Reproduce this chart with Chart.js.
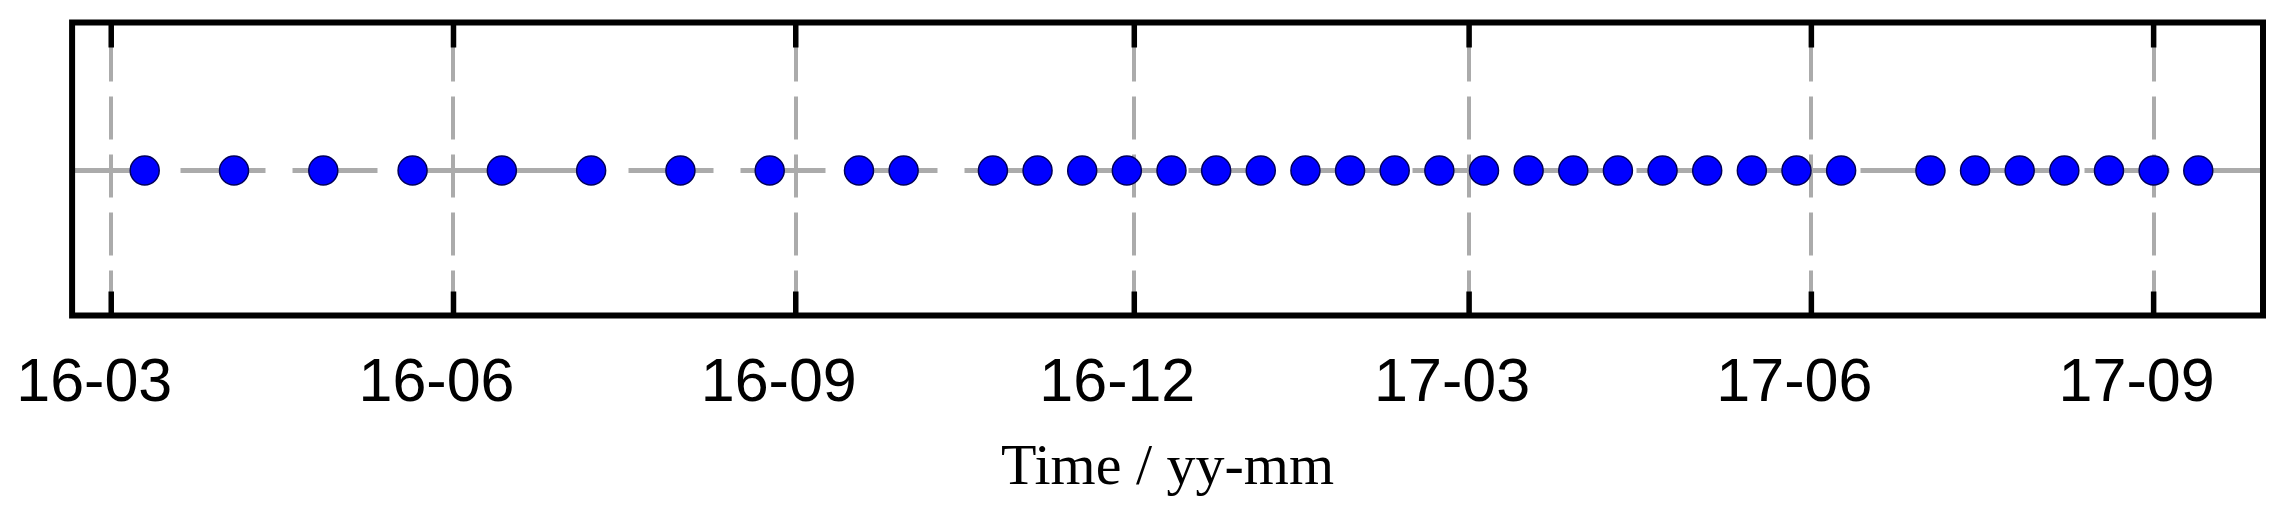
<!DOCTYPE html>
<html>
<head>
<meta charset="utf-8">
<script src="https://cdn.jsdelivr.net/npm/chart.js@4"></script>
<style>
  html, body { margin: 0; padding: 0; background: #ffffff; }
  #wrap { width: 2279px; height: 519px; }
</style>
</head>
<body>
<div id="wrap"><canvas id="c" width="2279" height="519"></canvas></div>
<script>
// ---- data ----
const acquisitionDates = [
  '2016-03-10','2016-04-03','2016-04-27','2016-05-21','2016-06-14','2016-07-08',
  '2016-08-01','2016-08-25','2016-09-18','2016-09-30','2016-10-24','2016-11-05',
  '2016-11-17','2016-11-29','2016-12-11','2016-12-23','2017-01-04','2017-01-16',
  '2017-01-28','2017-02-09','2017-02-21','2017-03-05','2017-03-17','2017-03-29',
  '2017-04-10','2017-04-22','2017-05-04','2017-05-16','2017-05-28','2017-06-09',
  '2017-07-03','2017-07-15','2017-07-27','2017-08-08','2017-08-20','2017-09-01',
  '2017-09-13'
];
const seriesValues = [
  0,0,0,0,0,0,0,0,0,0,0,0,0,0,0,0,0,0,0,0,0,0,0,0,0,0,0,0,0,0,0,0,0,0,0,0,0
];
const tickDates  = ['2016-03-01','2016-06-01','2016-09-01','2016-12-01','2017-03-01','2017-06-01','2017-09-01'];
const tickLabels = ['16-03','16-06','16-09','16-12','17-03','17-06','17-09'];
const axisStartDate = '2016-03-01';
const axisTitle = 'Time / yy-mm';

// ---- helpers ----
function dayIndex(s) {
  const [y, m, d] = s.split('-').map(Number);
  const [y0, m0, d0] = axisStartDate.split('-').map(Number);
  return (Date.UTC(y, m - 1, d) - Date.UTC(y0, m0 - 1, d0)) / 86400000;
}
const points = acquisitionDates.map((d, i) => ({ x: dayIndex(d), y: seriesValues[i] }));
const tickDays = tickDates.map(dayIndex);

const GRID = '#ababab';

const framePlugin = {
  id: 'frame',
  afterDraw(chart) {
    const { ctx, chartArea: a, scales } = chart;
    const xs = scales.x;
    ctx.save();
    ctx.strokeStyle = '#000000';
    ctx.lineWidth = 5.5;
    ctx.lineCap = 'butt';
    tickDays.forEach(v => {
      const px = xs.getPixelForValue(v);
      ctx.beginPath();
      ctx.moveTo(px, a.top);
      ctx.lineTo(px, a.top + 25);
      ctx.moveTo(px, a.bottom);
      ctx.lineTo(px, a.bottom - 24);
      ctx.stroke();
    });
    ctx.lineWidth = 6;
    ctx.strokeRect(a.left, a.top, a.right - a.left, a.bottom - a.top);
    ctx.restore();
  }
};

new Chart(document.getElementById('c'), {
  type: 'scatter',
  data: {
    datasets: [{
      data: points,
      pointRadius: 14.5,
      pointHoverRadius: 14.5,
      pointBorderWidth: 1.5,
      backgroundColor: '#0000ff',
      borderColor: '#00005a',
      showLine: false
    }]
  },
  options: {
    responsive: false,
    devicePixelRatio: 1,
    animation: false,
    layout: { padding: { left: 68.5, right: 16, top: 22.5, bottom: 0 } },
    plugins: { legend: { display: false }, tooltip: { enabled: false } },
    scales: {
      x: {
        type: 'linear',
        min: -10.52,
        max: 578.4,
        afterBuildTicks(axis) { axis.ticks = tickDays.map(v => ({ value: v })); },
        afterFit(s) { s.height = 203.5; },
        grid: { color: GRID, lineWidth: 4, drawTicks: false },
        border: { display: false, dash: [43, 15], dashOffset: 42 },
        ticks: {
          autoSkip: false,
          maxRotation: 0,
          padding: 32,
          labelOffset: -17,
          color: '#000000',
          font: { family: '"Liberation Sans", Arial, sans-serif', size: 61 },
          callback(value) {
            const i = tickDays.indexOf(value);
            return i >= 0 ? tickLabels[i] : '';
          }
        },
        title: {
          display: true,
          text: axisTitle,
          color: '#000000',
          font: { family: '"Liberation Serif", "Times New Roman", serif', size: 58 },
          padding: { top: 0, bottom: 15 }
        }
      },
      y: {
        min: -1,
        max: 1.02,
        afterBuildTicks(axis) { axis.ticks = [{ value: 0 }]; },
        afterFit(s) { s.width = 0; },
        grid: { color: GRID, lineWidth: 5, drawTicks: false },
        border: { display: false, dash: [85, 27], dashOffset: 3.5 },
        ticks: { display: false }
      }
    }
  },
  plugins: [framePlugin]
});
</script>
</body>
</html>
